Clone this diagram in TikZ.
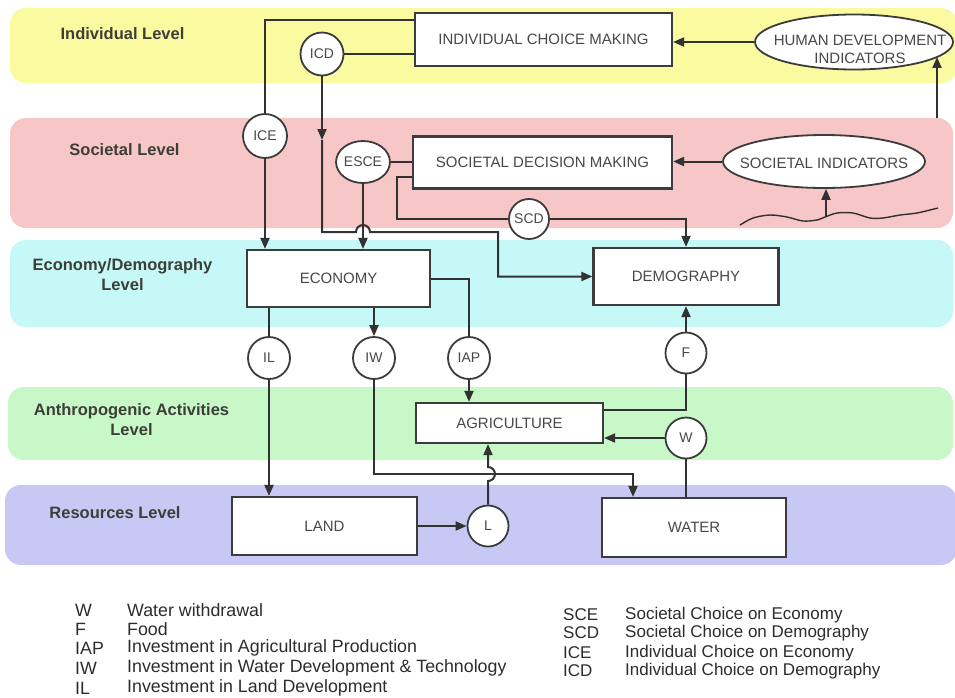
\documentclass[tikz,border=0pt]{standalone}
\usepackage{fontspec}
\setmainfont{Liberation Sans}
\usetikzlibrary{shapes.geometric,arrows.meta,calc}
\definecolor{bandY}{RGB}{250,250,160}
\definecolor{bandP}{RGB}{247,198,198}
\definecolor{bandC}{RGB}{198,248,248}
\definecolor{bandG}{RGB}{200,248,200}
\definecolor{bandL}{RGB}{200,200,245}
\definecolor{linec}{RGB}{50,50,50}
\definecolor{boxc}{RGB}{60,60,60}
\definecolor{boxtxt}{RGB}{72,72,72}
\definecolor{levc}{RGB}{60,62,55}
\definecolor{legc}{RGB}{45,45,45}
\begin{document}
\begin{tikzpicture}[x=1pt,y=-1pt,
  conn/.style={draw=linec, line width=2pt},
  arr/.style={conn, -{Triangle[length=11pt,width=9pt]}},
  box/.style={rectangle, draw=boxc, line width=2.2pt, fill=white, inner sep=0pt, text=boxtxt, font=\fontsize{15}{18}\selectfont},
  boxlab/.style={inner sep=0pt, text=boxtxt, font=\fontsize{15}{18}\selectfont},
  circ/.style={circle, draw=boxc, line width=1.8pt, fill=white, inner sep=0pt, minimum size=42pt, text=boxtxt, font=\fontsize{14}{16}\selectfont},
  ell/.style={ellipse, draw=boxc, line width=1.8pt, fill=white, inner sep=0pt},
  band/.style={rounded corners=16pt},
  lev/.style={font=\bfseries\fontsize{16.5}{20}\selectfont, text=levc, align=center, inner sep=0pt},
  leg/.style={font=\fontsize{17.8}{20}\selectfont, text=legc, anchor=west, inner sep=0pt},
  legr/.style={font=\fontsize{17}{20}\selectfont, text=legc, anchor=west, inner sep=0pt},
]
\useasboundingbox (0,0) rectangle (955,697);
\fill[white] (0,0) rectangle (955,697);
% bands
\fill[bandY, band] (10,8) rectangle (957,83);
\fill[bandP, band] (10,118) rectangle (953,228);
\fill[bandC, band] (10,240) rectangle (953,327);
\fill[bandG, band] (8,387) rectangle (953,460);
\fill[bandL, band] (5,485) rectangle (957,565);
% level labels
\node[lev] (lv1) at (122.5,34) {Individual Level};
\node[lev] (lv2) at (124.5,150) {Societal Level};
\node[lev] (lv3) at (122.5,275) {Economy/Demography\\Level};
\node[lev] (lv4) at (131.5,420) {Anthropogenic Activities\\Level};
\node[lev] (lv5) at (115,513) {Resources Level};
% nodes
\node[box, minimum width=257pt, minimum height=53pt] (icm) at (543.5,39.5) {INDIVIDUAL CHOICE MAKING};
\node[ell, minimum width=198pt, minimum height=55pt] (hdi) at (854,42) {};
\node[boxlab, align=center] (hdit) at (860,49) {HUMAN DEVELOPMENT\\INDICATORS};
\node[box, minimum width=259pt, minimum height=52pt] (sdm) at (542.5,162.5) {SOCIETAL DECISION MAKING};
\node[ell, minimum width=202pt, minimum height=53pt] (si) at (824,161.5) {};
\node[boxlab] (sit) at (824,163) {SOCIETAL INDICATORS};
\node[circ, minimum size=43pt] (icd) at (322,54) {ICD};
\node[circ, minimum size=44pt] (ice) at (265,136) {ICE};
\node[ell, minimum width=52pt, minimum height=42pt, text=boxtxt, font=\fontsize{14}{16}\selectfont] (esce) at (363,162) {ESCE};
\node[circ, minimum size=40pt] (scd) at (529,219) {SCD};
\node[box, minimum width=183pt, minimum height=57pt] (eco) at (338.5,278.5) {ECONOMY};
\node[box, minimum width=185pt, minimum height=57pt] (dem) at (686,276.5) {DEMOGRAPHY};
\node[circ] (il) at (269,358) {IL};
\node[circ] (iw) at (374,358) {IW};
\node[circ] (iap) at (469,358) {IAP};
\node[circ, minimum size=41pt] (f) at (686,353) {F};
\node[box, minimum width=187pt, minimum height=40pt] (agri) at (509.5,423) {AGRICULTURE};
\node[circ, minimum size=41pt] (w) at (686,438) {W};
\node[box, minimum width=185pt, minimum height=58pt] (land) at (324.5,526) {LAND};
\node[circ, minimum size=41pt] (l) at (488,526) {L};
\node[box, minimum width=184pt, minimum height=59pt] (water) at (694,527.5) {WATER};
% connectors
\draw[arr] (hdi.west) -- (hdi.west -| icm.east);
\coordinate (pinkt) at (937,118);
\draw[arr] (pinkt) -- (pinkt |- hdi.-10);
\draw[conn] ([yshift=19.5pt]icm.west) -| (ice.north);
\draw[arr] (ice.south) -- (ice.south |- eco.north);
\draw[conn] (icd.east) -- (icd.east -| icm.west);
\coordinate (icdmid) at (322,140);
\coordinate (icdturn) at (322,232);
\coordinate (icdbend) at (498,232);
\draw[arr] (icd.south) -- (icdmid);
\draw[arr] (icdmid) -- (icdturn) -- ($(esce.south |- icdturn)+(-7,0)$) arc[start angle=180,end angle=360,radius=7] -- (icdbend) |- (dem.west);
\draw[conn] (esce.east) -- (esce.east -| sdm.west);
\draw[arr] (esce.south) -- (esce.south |- eco.north);
\coordinate (scdc) at (397,219);
\draw[conn] ([yshift=-14.5pt]sdm.west) -| (scdc) -- (scd.west);
\draw[arr] (scd.east) -| (dem.north);
\draw[arr] (si.west) -- (si.west -| sdm.east);
\draw[conn, line width=1.4pt] plot[smooth] coordinates {(740,225) (753,218) (770,215) (787,217) (803,221) (817,220) (825,217) (837,213) (853,213) (870,218) (883,218) (900,215) (917,213) (938,208)};
\coordinate (wavet) at (826,217);
\draw[arr] (wavet) -- (wavet |- si.south);
\draw[conn] (eco.east) -| (iap.north);
\draw[arr] (iap.south) -- (iap.south |- agri.north);
\draw[conn] (il.north |- eco.south) -- (il.north);
\draw[arr] (il.south) -- (il.south |- land.north);
\draw[arr] (iw.north |- eco.south) -- (iw.north);
\coordinate (iwend) at (633,474);
\draw[arr] (iw.south) |- (iwend) -- (iwend |- water.north);
\draw[arr] (land.east) -- (l.west);
\coordinate (lhop) at (488,481);
\draw[arr] (l.north) -- (lhop) arc[start angle=90,end angle=-90,radius=7] -- (l.north |- agri.south);
\draw[conn] (w.south |- water.north) -- (w.south);
\draw[arr] (w.west) -- (w.west -| agri.east);
\draw[conn] ([yshift=13pt]agri.east) -| (f.south);
\draw[arr] (f.north) -- (f.north |- dem.south);
% legend
\node[leg] (la1) at (75,610) {W};
\node[leg] (ld1) at (127,610) {Water withdrawal};
\node[leg] (la2) at (75,629) {F};
\node[leg] (ld2) at (127,629) {Food};
\node[leg] (la3) at (75,648) {IAP};
\node[leg] (ld3) at (127,648) {Investment in Agricultural Production};
\node[leg] (la4) at (75,668) {IW};
\node[leg] (ld4) at (127,668) {Investment in Water Development \& Technology};
\node[leg] (la5) at (75,688) {IL};
\node[leg] (ld5) at (127,688) {Investment in Land Development};
\node[legr] (ra1) at (563,615) {SCE};
\node[legr] (rd1) at (625,615) {Societal Choice on Economy};
\node[legr] (ra2) at (563,633) {SCD};
\node[legr] (rd2) at (625,633) {Societal Choice on Demography};
\node[legr] (ra3) at (563,653) {ICE};
\node[legr] (rd3) at (625,653) {Individual Choice on Economy};
\node[legr] (ra4) at (563,671) {ICD};
\node[legr] (rd4) at (625,671) {Individual Choice on Demography};
\end{tikzpicture}
\end{document}
